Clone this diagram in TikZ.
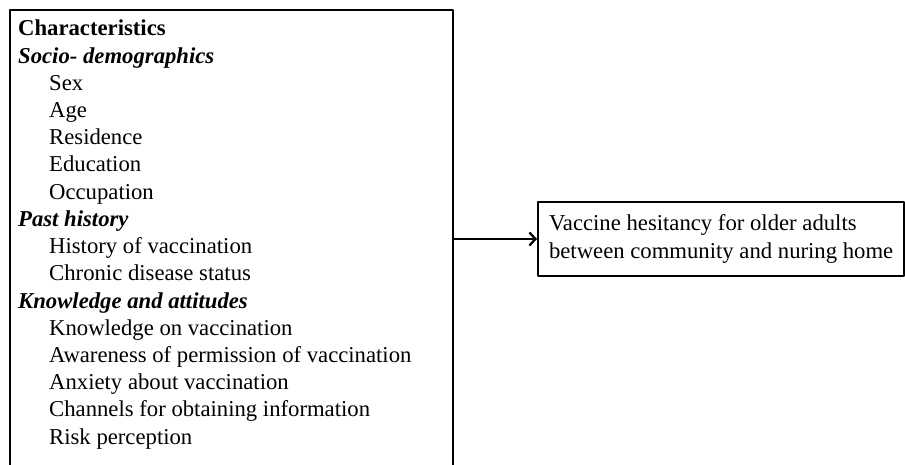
\documentclass[tikz,border=0pt]{standalone}
\usepackage{fontspec}
\setmainfont{Liberation Serif}
\usetikzlibrary{arrows.meta,positioning}
\tikzset{%
        frame/.style = { draw, line width=2.3pt, inner sep=0pt },
         line/.style = { anchor=base west, inner sep=0pt },
        entry/.style = { line, xshift=31pt, font=\fontsize{22.7}{27.2}\selectfont },
        title/.style = { line, font=\fontsize{22.7}{27.2}\selectfont\bfseries },
        group/.style = { line, font=\fontsize{22.7}{27.2}\selectfont\bfseries\itshape },
       result/.style = { frame, align=left, anchor=west, minimum width=366pt, minimum height=74pt,
                         font=\fontsize{22.7}{28}\selectfont }
}
\begin{document}
\begin{tikzpicture}[line cap=round,line join=round,x=1pt,y=-1pt]
\useasboundingbox (0,0) rectangle (905,465);
\node[frame, minimum width=443pt, minimum height=458pt] (chars) at (231.5,239) {};
\foreach \sty/\txt [count=\i from 0] in {title/Characteristics, group/Socio- demographics,
    entry/Sex, entry/Age, entry/Residence, entry/Education, entry/Occupation,
    group/Past history, entry/History of vaccination, entry/Chronic disease status,
    group/Knowledge and attitudes, entry/Knowledge on vaccination,
    entry/Awareness of permission of vaccination, entry/Anxiety about vaccination,
    entry/Channels for obtaining information, entry/Risk perception}
  \node[\sty] (l\i) at (18,36+27.2*\i) {\txt};
\node[result] (hesit) at (537,239) {Vaccine hesitancy for older adults\\between community and nuring home};
\draw[line width=2.3pt,-{Straight Barb[length=6pt,width=13pt]}] (chars.east) -- (hesit.west);
\end{tikzpicture}
\end{document}
